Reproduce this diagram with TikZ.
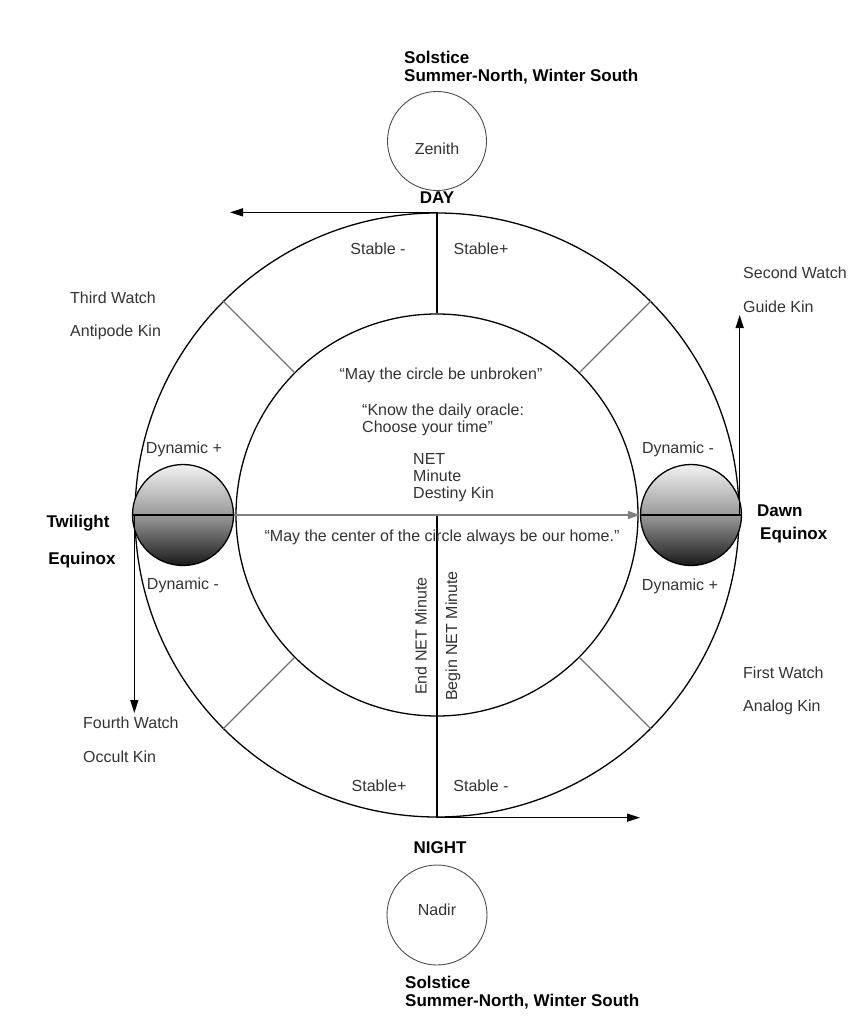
\documentclass[tikz,border=0pt]{standalone}
\usepackage{fontspec}
\setmainfont{Liberation Sans}
\usetikzlibrary{arrows.meta}

\begin{document}
\begin{tikzpicture}[x=1pt,y=-1pt,
        ring/.style={circle,draw,line width=1.3pt,inner sep=0pt},
        globe/.style={circle,draw,line width=1.3pt,inner sep=0pt,minimum size=101pt,
            top color=gray!10,bottom color=gray!20!black,middle color=gray!80},
        txt/.style={inner sep=0pt,text=black!80,font=\fontsize{16}{17}\selectfont},
        bold/.style={inner sep=0pt,font=\fontsize{17}{18}\selectfont\bfseries},
        arr/.style={line width=1.3pt,-{Triangle[length=13pt,width=8pt]}}]
        \useasboundingbox (0,0) rectangle (852,1035);
        \node[ring,minimum size=604pt] (O) at (437,515) {};
        \node[ring,minimum size=402pt] (I) at (437,515) {};
        \node[ring,line width=0.9pt,draw=black!70,minimum size=99pt] (Z) at (437,141) {};
        \node[ring,line width=0.9pt,draw=black!70,minimum size=100pt] (N) at (437,915) {};
        \node[globe] (L) at (183,515) {};
        \node[globe] (R) at (691,515) {};
        \coordinate (C) at (437,515);
        \coordinate (D) at ([xshift=-207pt]O.north);
        \coordinate (E) at ([xshift=203pt]O.south);
        \coordinate (F) at ([yshift=-198pt]O.west);
        \coordinate (G) at ([yshift=200pt]O.east);
        % spokes between the rings
        \foreach \a in {45,135,225,315}
            \draw[black!55,line width=1.2pt] (I.\a) -- (O.\a);
        \draw[line width=1.3pt] (O.north) -- (I.north);
        \draw[line width=1.3pt] (C) -- (O.south);
        \draw[line width=1.3pt] (L.west) -- (L.east);
        \draw[line width=1.3pt] (R.west) -- (R.east);
        \draw[black!50,line width=1.5pt,-{Triangle[length=12pt,width=8pt]}] (L.east) -- (R.west);
        \draw[arr] (O.north) -- (D);
        \draw[arr] (O.south) -- (E);
        \draw[arr] (O.west) -- (F);
        \draw[arr] (O.east) -- (G);
        % labels
        \node[bold,anchor=west,align=left] (S1) at (404,68) {Solstice\\Summer-North, Winter South};
        \node[bold,anchor=west,align=left] (S2) at (405,993) {Solstice\\Summer-North, Winter South};
        \node[txt] (Zt) at (437,149) {Zenith};
        \node[txt] (Nt) at (437,910) {Nadir};
        \node[bold] (day) at (437,198) {DAY};
        \node[bold] (night) at (440,848) {NIGHT};
        \node[txt] (s1) at (378,249) {Stable -};
        \node[txt] (s2) at (481,249) {Stable+};
        \node[txt] (s3) at (379,786) {Stable+};
        \node[txt] (s4) at (481,786) {Stable -};
        \node[txt] (d1) at (184,449) {Dynamic +};
        \node[txt] (d2) at (183,585) {Dynamic -};
        \node[txt] (d3) at (678,449) {Dynamic -};
        \node[txt] (d4) at (680,586) {Dynamic +};
        \node[txt,anchor=west] (w2a) at (743,273) {Second Watch};
        \node[txt,anchor=west] (w2b) at (743,307) {Guide Kin};
        \node[txt,anchor=west] (w3a) at (70,298) {Third Watch};
        \node[txt,anchor=west] (w3b) at (70,332) {Antipode Kin};
        \node[txt,anchor=west] (w1a) at (743,673) {First Watch};
        \node[txt,anchor=west] (w1b) at (743,707) {Analog Kin};
        \node[txt,anchor=west] (w4a) at (83,723) {Fourth Watch};
        \node[txt,anchor=west] (w4b) at (83,757) {Occult Kin};
        \node[bold] (tw) at (78,523) {Twilight};
        \node[bold] (teq) at (82,560) {Equinox};
        \node[bold,anchor=west] (dw) at (757,511) {Dawn};
        \node[bold,anchor=west] (deq) at (760,535) {Equinox};
        % inside the circle
        \node[txt] (q1) at (441,375) {“May the circle be unbroken”};
        \node[txt,anchor=west,align=left] (q2) at (362,420) {“Know the daily oracle:\\Choose your time”};
        \node[txt,anchor=west,align=left] (net) at (413,478) {NET\\Minute\\Destiny Kin};
        \node[txt] (q3) at (442,537) {“May the center of the circle always be our home.”};
        \node[txt,rotate=90] (en) at (421,636) {End NET Minute};
        \node[txt,rotate=90] (bn) at (453,636) {Begin NET Minute};
    \end{tikzpicture}
\end{document}
